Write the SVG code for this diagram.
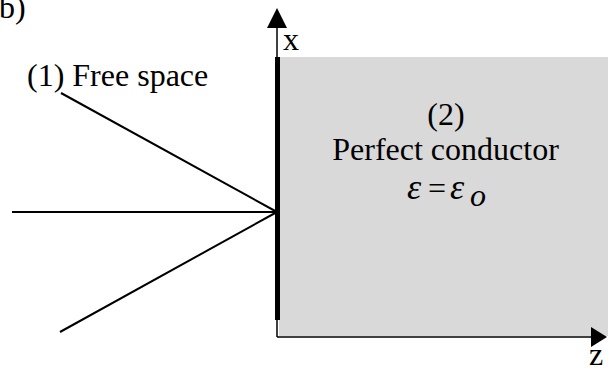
<svg xmlns="http://www.w3.org/2000/svg" width="608" height="370" viewBox="0 0 608 370">
<style>
text{font-family:"Liberation Serif","Times New Roman",serif;fill:#000;font-size:32px}
.ln{stroke:#000;stroke-width:2;fill:none}
.ax{stroke:#000;stroke-width:1.5;fill:none}
.eps{font-style:italic;font-size:36px}
</style>
<rect width="608" height="370" fill="#fff"/>
<g id="conductor">
<rect x="279" y="57" width="329" height="279" fill="#d9d9d9"/>
<text x="446" y="125" text-anchor="middle">(2)</text>
<text x="445.5" y="160" text-anchor="middle">Perfect conductor</text>
<text class="eps" x="407" y="199">ε</text>
<text x="428" y="199" font-size="32">=</text>
<text class="eps" x="450" y="199">ε</text>
<text x="470" y="206" font-size="17" font-style="italic">o</text>
</g>
<g id="axes">
<line class="ax" x1="277" y1="25" x2="277" y2="337"/>
<polygon points="277,8 267,28 287,28"/>
<line class="ax" x1="277" y1="337" x2="592" y2="337"/>
<polygon points="607,337 591,327 591,347"/>
<rect x="275" y="57" width="5" height="263" fill="#000"/>
<text x="283" y="50" font-size="31">x</text>
<text x="589" y="365" font-size="31">z</text>
</g>
<g id="rays">
<line class="ln" x1="61" y1="93" x2="277" y2="212"/>
<line class="ln" x1="12" y1="212" x2="277" y2="212"/>
<line class="ln" x1="60" y1="332" x2="277" y2="212"/>
</g>
<g id="labels">
<text x="-1" y="18">b)</text>
<text x="27" y="86">(1) Free space</text>
</g>
</svg>
